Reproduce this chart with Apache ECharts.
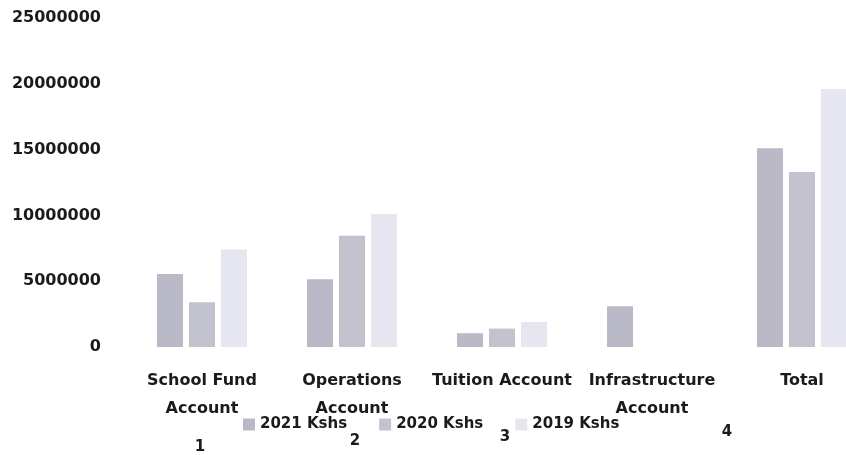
<!DOCTYPE html>
<html>
<head>
<meta charset="utf-8">
<script src="https://cdn.jsdelivr.net/npm/echarts@6/dist/echarts.min.js"></script>
<style>
  html, body { margin: 0; padding: 0; background: #ffffff; }
  #chart { width: 846px; height: 455px; }
</style>
</head>
<body>
<div id="chart"></div>
<script>
// Account balances per year (Kshs)
const categories = ['School Fund\nAccount', 'Operations\nAccount', 'Tuition Account', 'Infrastructure\nAccount', 'Total'];
const seriesNames = ['2021 Kshs', '2020 Kshs', '2019 Kshs'];
const values2021 = [5550000, 5150000, 1050000, 3100000, 15100000];
const values2020 = [3400000, 8450000, 1400000, 0, 13300000];
const values2019 = [7400000, 10100000, 1900000, 0, 19600000];
const yTicks = [0, 5000000, 10000000, 15000000, 20000000, 25000000];
const groupNumbers = ['1', '2', '3', '4'];

const colors = ['#b9b9c7', '#c3c3cf', '#e6e6f0'];
const fontFamily = 'DejaVu Sans, Liberation Sans, sans-serif';
const textColor = '#1b1b1b';

const chart = echarts.init(document.getElementById('chart'), null, { renderer: 'canvas' });

const valueSets = [values2021, values2020, values2019];
const series = seriesNames.map((name, i) => ({
  name: name,
  type: 'bar',
  data: valueSets[i],
  barWidth: 26,
  barGap: '23%',
  itemStyle: { color: colors[i] }
}));

// numbering row under the legend
const numberPos = [[200, 447], [355, 441], [505, 437], [727, 432]];
const graphics = groupNumbers.map((t, i) => ({
  type: 'text',
  x: numberPos[i][0],
  y: numberPos[i][1],
  style: {
    text: t,
    fill: textColor,
    font: 'bold 15px ' + fontFamily,
    textAlign: 'center',
    textVerticalAlign: 'middle'
  }
}));

chart.setOption({
  animation: false,
  backgroundColor: '#ffffff',
  grid: {
    left: 127, top: 18, width: 750, height: 329,
    containLabel: false,
    outerBoundsMode: 'none'
  },
  legend: {
    data: seriesNames,
    left: 243,
    top: 417,
    padding: 0,
    itemWidth: 12,
    itemHeight: 12,
    itemGap: 32,
    icon: 'rect',
    textStyle: { color: textColor, fontFamily: fontFamily, fontWeight: 'bold', fontSize: 15 }
  },
  xAxis: {
    type: 'category',
    data: categories,
    axisLine: { show: false },
    axisTick: { show: false },
    axisLabel: {
      interval: 0,
      margin: 20,
      color: textColor,
      fontFamily: fontFamily,
      fontWeight: 'bold',
      fontSize: 16,
      lineHeight: 28
    }
  },
  yAxis: {
    type: 'value',
    min: yTicks[0],
    max: yTicks[yTicks.length - 1],
    interval: yTicks[1] - yTicks[0],
    axisLine: { show: false },
    axisTick: { show: false },
    splitLine: { show: false },
    axisLabel: {
      margin: 26,
      color: textColor,
      fontFamily: fontFamily,
      fontWeight: 'bold',
      fontSize: 16,
      formatter: (v) => String(v)
    }
  },
  series: series,
  graphic: graphics
});
</script>
</body>
</html>
